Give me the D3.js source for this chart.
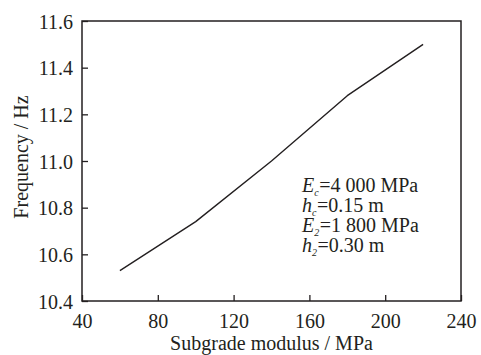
<!DOCTYPE html>
<html>
<head>
<meta charset="utf-8">
<script src="https://cdn.jsdelivr.net/npm/d3@7"></script>
<style>
  html, body { margin: 0; padding: 0; background: #fff; }
  svg text { font-family: "Liberation Serif", "Times New Roman", serif; fill: #231f20; }
</style>
</head>
<body>
<svg id="chart" width="481" height="355"></svg>
<script>
// Subgrade modulus (MPa) and resulting natural frequency (Hz)
const modulus = [60, 100, 140, 180, 220];
const frequency = [10.53, 10.74, 11.00, 11.28, 11.50];
const xTicks = [40, 80, 120, 160, 200, 240];
const yTicks = [10.4, 10.6, 10.8, 11.0, 11.2, 11.4, 11.6];
const xTitle = "Subgrade modulus / MPa";
const yTitle = "Frequency / Hz";
// Parameter note: [main symbol, subscript, rest]
const noteLines = [
  ["E", "c", "=4 000 MPa"],
  ["h", "c", "=0.15 m"],
  ["E", "2", "=1 800 MPa"],
  ["h", "2", "=0.30 m"]
];

const svg = d3.select("#chart");
const m = { left: 82, top: 21, right: 461, bottom: 301 };
const ink = "#231f20";

const x = d3.scaleLinear().domain([40, 240]).range([m.left, m.right]);
const y = d3.scaleLinear().domain([10.4, 11.6]).range([m.bottom, m.top]);

// Frame
svg.append("rect")
  .attr("x", m.left).attr("y", m.top)
  .attr("width", m.right - m.left).attr("height", m.bottom - m.top)
  .attr("fill", "none").attr("stroke", ink).attr("stroke-width", 1.5);

// Axes with inward ticks
const xAxis = svg.append("g")
  .attr("transform", `translate(0,${m.bottom})`)
  .call(d3.axisBottom(x).tickValues(xTicks).tickSizeInner(-6).tickSizeOuter(0).tickPadding(13).tickFormat(d3.format("d")));
const yAxis = svg.append("g")
  .attr("transform", `translate(${m.left},0)`)
  .call(d3.axisLeft(y).tickValues(yTicks).tickSizeInner(-6).tickSizeOuter(0).tickPadding(9).tickFormat(d3.format(".1f")));

[xAxis, yAxis].forEach(g => {
  g.attr("font-family", null);
  g.select(".domain").remove();
  g.selectAll(".tick line").attr("stroke", ink).attr("stroke-width", 1.3);
  g.selectAll(".tick text")
    .attr("font-size", 20)
    .attr("fill", ink);
});
yAxis.selectAll(".tick text").attr("dy", "0.36em");

// Axis titles
svg.append("text")
  .attr("x", (m.left + m.right) / 2).attr("y", 350)
  .attr("text-anchor", "middle").attr("font-size", 20)
  .text(xTitle);
svg.append("text")
  .attr("transform", `translate(28,${(m.top + m.bottom) / 2 - 4}) rotate(-90)`)
  .attr("text-anchor", "middle").attr("font-size", 20)
  .text(yTitle);

// Frequency curve
const line = d3.line()
  .x((d, i) => x(modulus[i]))
  .y(d => y(d));
svg.append("path")
  .datum(frequency)
  .attr("d", line)
  .attr("fill", "none")
  .attr("stroke", ink)
  .attr("stroke-width", 1.4)
  .attr("stroke-linejoin", "round");

// Parameter annotation
const note = svg.append("g");
noteLines.forEach((ln, i) => {
  const t = note.append("text")
    .attr("x", 302).attr("y", 192 + i * 20)
    .attr("font-size", 20);
  t.append("tspan").attr("font-style", "italic").text(ln[0]);
  t.append("tspan").attr("font-style", "italic").attr("font-size", 10).attr("dy", 4).text(ln[1]);
  t.append("tspan").attr("dy", -4).attr("dx", 0.5).text(ln[2]);
});
</script>
</body>
</html>
